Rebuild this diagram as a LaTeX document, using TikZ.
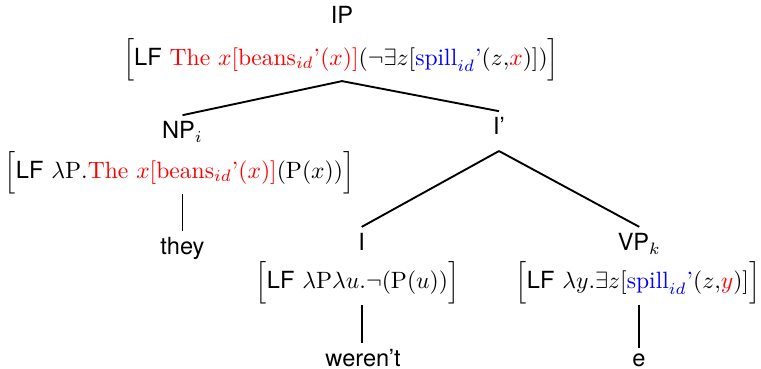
\documentclass[tikz,border=0pt]{standalone}
\usepackage{amsmath}
\usepackage{fontspec}
\setsansfont{TeX Gyre Heros}
\newcommand{\lfbox}[1]{$\Big[\text{\sffamily LF}\ #1\Big]$}
\newcommand{\apos}{\text{'}}
\begin{document}
\begin{tikzpicture}[x=0.4237pt,y=-0.4237pt,
  lab/.style={font=\sffamily, anchor=base, inner xsep=0pt, inner ysep=2.6pt},
  feat/.style={anchor=base, inner sep=0pt},
  edge/.style={line width=0.8pt}]
\useasboundingbox (0,0) rectangle (761,369);
% nodes
\node[lab] (ip) at (342,23.3) {IP};
\node[feat] (ipf) at (341,65.3) {\lfbox{\textcolor{red}{\mathrm{The}\ x[\mathrm{beans}_{id}\apos(x)]}(\neg\exists z[\textcolor{blue}{\mathrm{spill}_{id}\apos}(z{,}\textcolor{red}{x})])}};
\node[lab] (np) at (182.5,139) {NP$_i$};
\node[feat] (npf) at (179.5,178.3) {\lfbox{\lambda\mathrm{P}.\textcolor{red}{\mathrm{The}\ x[\mathrm{beans}_{id}\apos(x)]}(\mathrm{P}(x))}};
\node[lab] (they) at (182.5,255) {they};
\node[lab, text depth=4pt] (ibar) at (499,135) {I’};
\node[lab] (i) at (361.7,250.7) {I};
\node[feat] (if) at (357.5,289) {\lfbox{\lambda\mathrm{P}\lambda u.\neg(\mathrm{P}(u))}};
\node[lab] (wer) at (363,367) {weren’t};
\node[lab] (vp) at (639.3,250.7) {VP$_k$};
\node[feat] (vpf) at (638,289) {\lfbox{\lambda y.\exists z[\textcolor{blue}{\mathrm{spill}_{id}\apos}(z{,}\textcolor{red}{y})]}};
\node[lab] (e) at (639,367) {e};
% connectors
\draw[edge] (ip |- ipf.south) -- (np.north);
\draw[edge] (ip |- ipf.south) -- (ibar.north);
\draw[edge] (np |- npf.south) -- (np |- they.north);
\draw[edge] (ibar.south) -- (i.north);
\draw[edge] (ibar.south) -- (vp.north);
\draw[edge] (i |- if.south) -- (i |- wer.north);
\draw[edge] (e |- vpf.south) -- (e.north);
\end{tikzpicture}
\end{document}
